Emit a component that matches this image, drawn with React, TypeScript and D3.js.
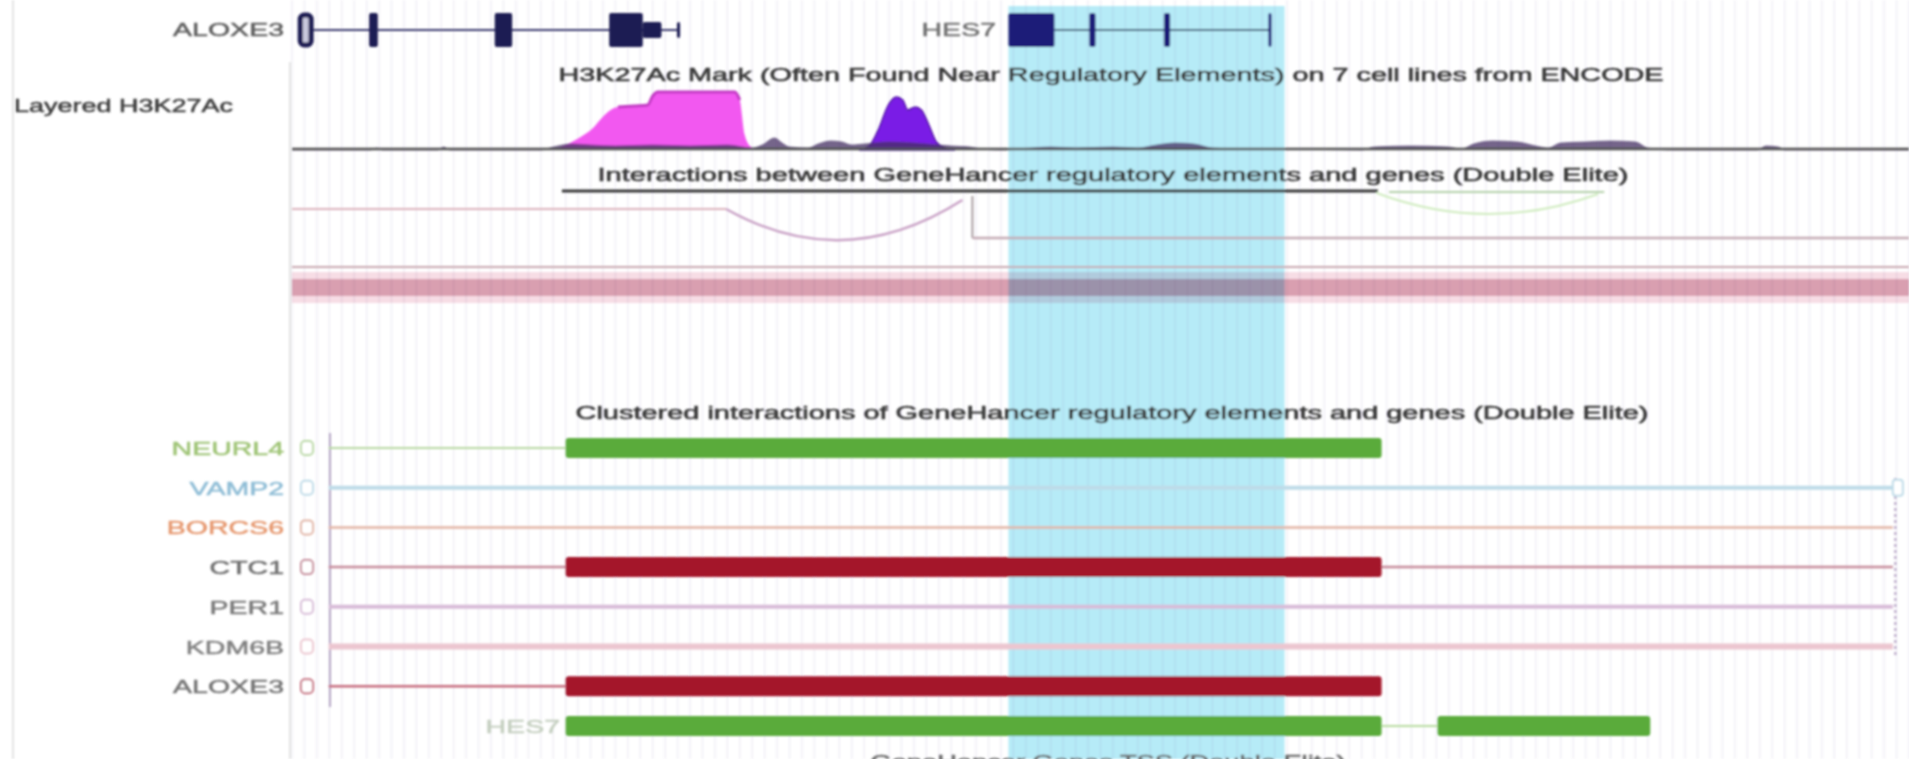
import React from "react";
import * as d3 from "d3";

const WIDTH = 1909;
const HEIGHT = 759;

// genomic window (kb, chr17)
const windowStartKb = 8020;
const windowEndKb = 8150;
const gridStepKb = 1;
const highlightKb = [8077.6, 8099.8];

const layeredLabel = "Layered H3K27Ac";
const h3Title = "H3K27Ac Mark (Often Found Near Regulatory Elements) on 7 cell lines from ENCODE";
const interactionsTitle = "Interactions between GeneHancer regulatory elements and genes (Double Elite)";
const clusteredTitle = "Clustered interactions of GeneHancer regulatory elements and genes (Double Elite)";
const bottomTitle = "GeneHancer Genes TSS (Double Elite)";

// top gene models
const topGeneNames = ["ALOXE3", "HES7"];
const topGeneLineStarts = [8021.7, 8081.3];
const topGeneLineEnds = [8051.1, 8098.6];
const aloxe3ExonStarts = [8020.5, 8026.2, 8036.3, 8045.5, 8048.2, 8050.95];
const aloxe3ExonEnds = [8021.7, 8026.9, 8037.7, 8048.2, 8049.7, 8051.2];
const aloxe3ExonKinds = ["open", "cds", "cds", "cds", "utr", "utr"];
const hes7ExonStarts = [8077.6, 8084.1, 8090.1, 8098.5];
const hes7ExonEnds = [8081.3, 8084.6, 8090.6, 8098.75];
const hes7ExonKinds = ["cds", "cds", "cds", "cds"];

// layered H3K27Ac signal [kb, signal]
const magentaSignal: [number, number][] = [
  [8041.0, 0], [8042.0, 5], [8043.2, 13], [8044.2, 22], [8044.9, 32], [8045.5, 39], [8046.2, 43],
  [8047.5, 44], [8048.6, 45], [8049.0, 54], [8049.4, 58], [8052.0, 58], [8055.6, 58], [8056.0, 50],
  [8056.4, 15], [8056.9, 3], [8057.5, 0],
];
const purpleSignal: [number, number][] = [
  [8065.6, 0], [8066.4, 4], [8067.2, 22], [8067.9, 44], [8068.6, 53], [8069.1, 50], [8069.5, 40],
  [8070.1, 43], [8070.6, 40], [8071.2, 25], [8071.8, 8], [8072.5, 2], [8073.3, 0],
];
const darkSignal: [number, number][] = [
  [8020, 0], [8026.3, 0], [8026.8, 2], [8027.3, 0], [8031.7, 0], [8032.2, 3], [8032.7, 0],
  [8040.0, 0], [8041.0, 3], [8042.5, 6], [8044.0, 5], [8046.0, 4], [8049.0, 5], [8052.0, 4],
  [8055.0, 5], [8057.0, 2], [8057.8, 5], [8058.8, 12], [8059.4, 7], [8060.0, 3], [8061.5, 2],
  [8062.3, 6], [8063.3, 9], [8064.2, 8], [8065.0, 5], [8066.0, 6], [8068.0, 8], [8070.0, 7],
  [8072.0, 5], [8073.0, 4], [8074.5, 3], [8075.5, 1], [8077.0, 0], [8079.5, 2], [8081.0, 3],
  [8083.0, 2], [8086.0, 3], [8088.0, 2], [8089.5, 5], [8091.0, 7], [8092.5, 6], [8094.0, 2],
  [8096.0, 1], [8100.0, 1], [8106.0, 0], [8107.0, 3], [8110.0, 4], [8113.0, 3], [8114.0, 1],
  [8115.0, 6], [8116.5, 9], [8118.5, 8], [8120.0, 4], [8121.0, 2], [8122.0, 7], [8124.0, 8],
  [8126.0, 9], [8128.0, 8], [8129.0, 2], [8131.0, 0], [8137.8, 0], [8138.5, 4], [8139.5, 3],
  [8140.0, 0], [8150.0, 0],
];

// interactions track
const underlineStarts = [8041.7, 8108.2];
const underlineEnds = [8107.3, 8125.5];
const arcStartsKb = [8054.9, 8107.2];
const arcEndsKb = [8073.9, 8125.0];
const connectorKb = 8074.7;

// clustered interactions rows
const clusterNames = ["NEURL4", "VAMP2", "BORCS6", "CTC1", "PER1", "KDM6B", "ALOXE3", "HES7"];
const clusterLineStarts = [8022.95, 8022.95, 8022.95, 8022.95, 8022.95, 8022.95, 8022.95, 8107.6];
const clusterLineEnds = [8042.0, 8148.7, 8148.7, 8148.7, 8148.7, 8148.7, 8042.0, 8112.1];
const clusterBlocks: [number, number][][] = [
  [[8042.0, 8107.6]],
  [],
  [],
  [[8042.0, 8107.6]],
  [],
  [],
  [[8042.0, 8107.6]],
  [[8042.0, 8107.6], [8112.1, 8129.2]],
];
const clusterHasBox = [true, true, true, true, true, true, true, false];

// styles
const labelColors = ["#9fc476", "#8fbdd6", "#e6986f", "#6e6e6e", "#7a7a7a", "#808080", "#747474", "#c4cfbf"];
const lineColors = ["#b8d8a2", "#bedbe8", "#e2b4a4", "#c68a9a", "#d8bcd8", "#ecc6d0", "#c66c7e", "#b8dca0"];
const lineWidths = [2, 4, 2.5, 2.5, 4, 6, 2.5, 2];
const blockColors = ["#5aab3b", "", "", "#a4122c", "", "", "#a4122c", "#5aab3b"];

const FONT = "'Liberation Sans', Arial, Helvetica, sans-serif";
const SX = 1.5;

const x = d3.scaleLinear().domain([windowStartKb, windowEndKb]).range([292, 1909]);
const ySig = d3.scaleLinear().domain([0, 60]).range([150, 90]);
const rowY = (i: number) => 448 + i * 39.7;

function SText(props: { x: number; y: number; anchor?: string; fill: string; size: number; children: string }) {
  return (
    <text
      transform={`translate(${props.x},${props.y}) scale(${SX},1)`}
      textAnchor={props.anchor || "start"}
      fontSize={props.size}
      fill={props.fill}
      stroke={props.fill}
      strokeWidth={0.5}
      fontFamily={FONT}
    >
      {props.children}
    </text>
  );
}

function Title(props: { cx: number; y: number; width: number; children: string; fill?: string }) {
  const fill = props.fill || "#3a3a3a";
  return (
    <text
      x={props.cx - props.width / 2}
      y={props.y}
      textLength={props.width}
      lengthAdjust="spacingAndGlyphs"
      fontSize={18}
      fill={fill}
      stroke={fill}
      strokeWidth={0.6}
      fontFamily={FONT}
    >
      {props.children}
    </text>
  );
}

export default function App() {
  const area = d3
    .area<[number, number]>()
    .x((d) => x(d[0]))
    .y0(ySig(0))
    .y1((d) => ySig(d[1]))
    .curve(d3.curveMonotoneX);
  const line = d3
    .line<[number, number]>()
    .x((d) => x(d[0]))
    .y((d) => ySig(d[1]))
    .curve(d3.curveMonotoneX);

  const gridTicks = d3.range(windowStartKb, windowEndKb + 0.001, gridStepKb);

  const arcPath = (x1: number, y1: number, x2: number, y2: number, bottom: number) => {
    const p = d3.path();
    p.moveTo(x1, y1);
    const c = 2 * bottom - (y1 + y2) / 2;
    p.quadraticCurveTo((x1 + x2) / 2, c, x2, y2);
    return p.toString();
  };

  const geneY = 30;
  const renderExons = (starts: number[], ends: number[], kinds: string[], fill: string) =>
    starts.map((s, i) => {
      const k = kinds[i];
      const h = k === "utr" ? 16 : 34;
      const w = Math.max(3, x(ends[i]) - x(s));
      if (k === "open") {
        return (
          <rect key={i} x={x(s) + 2} y={geneY - 15} width={w - 4} height={30} rx={4}
            fill="#c8c8dc" stroke={fill} strokeWidth={5} />
        );
      }
      return <rect key={i} x={x(s)} y={geneY - h / 2} width={w} height={h} rx={2} fill={fill} />;
    });

  const magentaPlateau = magentaSignal.filter((d) => d[1] >= 43);

  return (
    <svg
      width={WIDTH}
      height={HEIGHT}
      style={{ position: "absolute", left: 0, top: 0, display: "block", background: "#ffffff" }}
    >
      <defs>
        <filter id="soft" x="-2%" y="-2%" width="104%" height="104%">
          <feGaussianBlur stdDeviation="0.9" />
        </filter>
      </defs>
      <rect x={0} y={0} width={WIDTH} height={HEIGHT} fill="#ffffff" />
      <g filter="url(#soft)">
        {/* highlight */}
        <rect x={x(highlightKb[0])} y={6} width={x(highlightKb[1]) - x(highlightKb[0])} height={HEIGHT - 6} fill="#b6ebf7" />
        {/* grid */}
        <g>
          {gridTicks.map((t) => (
            <line key={t} x1={x(t)} x2={x(t)} y1={0} y2={HEIGHT} stroke="rgba(140,130,185,0.17)" strokeWidth={1.2} />
          ))}
        </g>
        <line x1={13} x2={13} y1={0} y2={HEIGHT} stroke="#e4e4e4" strokeWidth={2} />
        <line x1={290} x2={290} y1={62} y2={HEIGHT} stroke="#dadada" strokeWidth={1.5} />

        {/* top genes */}
        <SText x={284} y={36} anchor="end" fill="#5e5e5e" size={19}>{topGeneNames[0]}</SText>
        <SText x={996} y={36} anchor="end" fill="#707070" size={19}>{topGeneNames[1]}</SText>
        <line x1={x(topGeneLineStarts[0])} x2={x(topGeneLineEnds[0])} y1={geneY} y2={geneY} stroke="#3a3a6e" strokeWidth={2} />
        {renderExons(aloxe3ExonStarts, aloxe3ExonEnds, aloxe3ExonKinds, "#1d1a52")}
        <line x1={x(topGeneLineStarts[1])} x2={x(topGeneLineEnds[1])} y1={geneY} y2={geneY} stroke="#3d5b78" strokeWidth={2} />
        {renderExons(hes7ExonStarts, hes7ExonEnds, hes7ExonKinds, "#1a1a78")}

        {/* layered H3K27Ac */}
        <SText x={14} y={112} fill="#3e3e3e" size={18}>{layeredLabel}</SText>
        <Title cx={1111} y={81} width={1105}>{h3Title}</Title>
        <path d={area(magentaSignal) || ""} fill="#f258f0" />
        <path d={line(magentaPlateau) || ""} fill="none" stroke="#c23ac4" strokeWidth={3} />
        <path d={area(purpleSignal) || ""} fill="#7a1ce6" stroke="#5212a8" strokeWidth={1.5} />
        <path d={area(darkSignal) || ""} fill="rgba(70,50,100,0.75)" />
        <path d={line(darkSignal) || ""} fill="none" stroke="rgba(80,60,110,0.6)" strokeWidth={1} />
        <line x1={x(windowStartKb)} x2={x(windowEndKb)} y1={149} y2={149} stroke="#505050" strokeWidth={2.5} />

        {/* interactions */}
        <Title cx={1113} y={181} width={1031}>{interactionsTitle}</Title>
        <line x1={x(underlineStarts[0])} x2={x(underlineEnds[0])} y1={191} y2={191} stroke="#363636" strokeWidth={3} />
        <line x1={x(underlineStarts[1])} x2={x(underlineEnds[1])} y1={192} y2={192} stroke="#b4d0aa" strokeWidth={2} />
        <line x1={x(windowStartKb)} x2={x(arcStartsKb[0])} y1={209} y2={209} stroke="#dcb2bc" strokeWidth={2} />
        <path d={arcPath(x(arcStartsKb[0]), 209, x(arcEndsKb[0]), 200, 240)} fill="none" stroke="#c9a2c6" strokeWidth={2.5} />
        <path d={arcPath(x(arcStartsKb[1]), 193, x(arcEndsKb[1]), 194, 214)} fill="none" stroke="#d0ecc0" strokeWidth={2} />
        <line x1={x(connectorKb)} x2={x(connectorKb)} y1={196} y2={238} stroke="#a89ca0" strokeWidth={2} />
        <line x1={x(connectorKb)} x2={x(windowEndKb)} y1={238} y2={238} stroke="#c4aab4" strokeWidth={2.5} />

        {/* pink band */}
        <line x1={x(windowStartKb)} x2={x(windowEndKb)} y1={267} y2={267} stroke="#c8a8b0" strokeWidth={2} />
        <g style={{ mixBlendMode: "multiply" }}>
          <rect x={x(windowStartKb)} y={272} width={x(windowEndKb) - x(windowStartKb)} height={31} fill="#f7dde5" />
          <rect x={x(windowStartKb)} y={279} width={x(windowEndKb) - x(windowStartKb)} height={17} fill="#d99fb0" />
        </g>

        {/* clustered interactions */}
        <Title cx={1112} y={419} width={1073}>{clusteredTitle}</Title>
        <line x1={330} x2={330} y1={433} y2={707} stroke="#b4a4c4" strokeWidth={2} />
        <line x1={x(8148.9)} x2={x(8148.9)} y1={478} y2={655} stroke="#b09cc0" strokeWidth={2} strokeDasharray="3,3" />
        {clusterNames.map((name, i) => {
          const y = rowY(i);
          const labelX = clusterHasBox[i] ? 284 : 560;
          return (
            <g key={name + i}>
              <SText x={labelX} y={y + 7} anchor="end" fill={labelColors[i]} size={19}>{name}</SText>
              {clusterHasBox[i] && (
                <rect x={301} y={y - 7} width={12} height={14} rx={4} fill="#ffffff" stroke={lineColors[i]} strokeWidth={2} />
              )}
              <line x1={x(clusterLineStarts[i])} x2={x(clusterLineEnds[i])} y1={y} y2={y} stroke={lineColors[i]} strokeWidth={lineWidths[i]} />
              {clusterBlocks[i].map((b, j) => (
                <rect key={j} x={x(b[0])} y={y - 10} width={x(b[1]) - x(b[0])} height={20} rx={3} fill={blockColors[i]} />
              ))}
              {i === 1 && (
                <rect x={x(8148.7)} y={y - 8} width={10} height={16} rx={3} fill="#ffffff" stroke={lineColors[i]} strokeWidth={2} />
              )}
            </g>
          );
        })}

        <Title cx={1108} y={768} width={475} fill="#6a6a6a">{bottomTitle}</Title>
      </g>
    </svg>
  );
}
